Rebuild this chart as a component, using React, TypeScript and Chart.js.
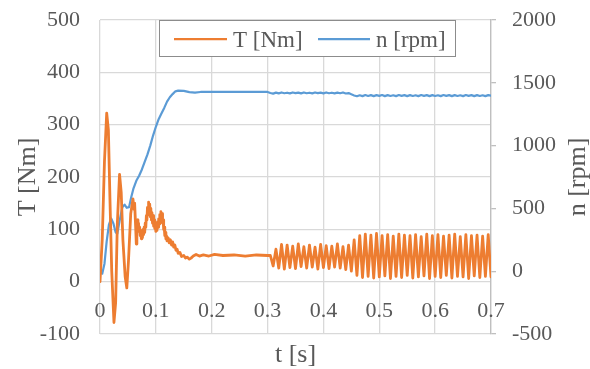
import { useEffect, useRef } from "react";
import { Chart, registerables } from "chart.js";

Chart.register(...registerables);

const FONT = '"Liberation Serif", "Times New Roman", serif';
const TEXT = "#595959";
const GRID = "#D9D9D9";
const AXIS = "#BFBFBF";
const ORANGE = "#ED7D31";
const BLUE = "#5B9BD5";

// Axis ticks and titles
const timeTicks = [0, 0.1, 0.2, 0.3, 0.4, 0.5, 0.6, 0.7];
const timeTickLabels = ["0", "0.1", "0.2", "0.3", "0.4", "0.5", "0.6", "0.7"];
const torqueTicks = [-100, 0, 100, 200, 300, 400, 500];
const speedTicks = [-500, 0, 500, 1000, 1500, 2000];
const timeTitle = "t [s]";
const torqueTitle = "T [Nm]";
const speedTitle = "n [rpm]";

// Torque during start-up, [t (s), T (Nm)]
const torqueStartup: [number, number][] = [
  [0.0, 0], [0.004, 80], [0.008, 230], [0.012, 322], [0.015, 290], [0.018, 150],
  [0.021, 20], [0.025, -78], [0.028, -40], [0.031, 110], [0.035, 205], [0.038, 170],
  [0.041, 80], [0.045, 10], [0.048, -12], [0.051, 40], [0.055, 130], [0.059, 158],
  [0.061, 138], [0.062, 150], [0.064, 100], [0.065, 72], [0.066, 96], [0.067, 118],
  [0.068, 102], [0.069, 112], [0.07, 96], [0.071, 104], [0.072, 88], [0.073, 98],
  [0.074, 82], [0.075, 94], [0.076, 84], [0.077, 100], [0.078, 90], [0.079, 104],
  [0.08, 94], [0.081, 112], [0.082, 104], [0.083, 126], [0.084, 118], [0.085, 142],
  [0.086, 128], [0.087, 152], [0.088, 132], [0.089, 148], [0.09, 124], [0.091, 140],
  [0.092, 118], [0.093, 132], [0.094, 112], [0.095, 126], [0.096, 106], [0.097, 118],
  [0.098, 102], [0.099, 110], [0.1, 96], [0.101, 108], [0.102, 98], [0.103, 114],
  [0.104, 104], [0.105, 120], [0.106, 110], [0.107, 128], [0.108, 116], [0.109, 134],
  [0.11, 120], [0.111, 130], [0.112, 112], [0.113, 118], [0.114, 100], [0.115, 104],
  [0.116, 88], [0.117, 94], [0.118, 82], [0.119, 88], [0.12, 78], [0.122, 84],
  [0.124, 74], [0.126, 80], [0.128, 70], [0.13, 76], [0.132, 66], [0.134, 70],
  [0.136, 60], [0.138, 62], [0.14, 54], [0.143, 56], [0.146, 48], [0.15, 50],
  [0.153, 45], [0.156, 47], [0.16, 43], [0.163, 45], [0.167, 49], [0.172, 52],
  [0.178, 49], [0.185, 51], [0.195, 49], [0.205, 52], [0.22, 50], [0.24, 51],
  [0.26, 49], [0.28, 51], [0.3, 50], [0.305, 50],
];

// Torque ripple, one sample every 5 ms from 0.31 s
const TORQUE_RIPPLE_START = 0.31;
const RIPPLE_STEP = 0.005;
const torqueRipple = [
  30, 62, 26, 71, 24, 70, 27, 68, 25, 72, 29, 67, 26, 70, 28, 66, 24, 71, 27, 69,
  25, 68, 28, 72, 26, 67, 23, 70, 20, 80, 12, 88, 8, 91, 10, 89, 7, 92, 9, 88,
  11, 90, 6, 87, 10, 91, 8, 89, 12, 88, 7, 90, 9, 86, 11, 91, 6, 88, 10, 90,
  8, 87, 12, 89, 7, 91, 10, 86, 9, 90, 6, 88, 11, 89, 8, 87, 10, 90, 9,
];

// Speed during start-up, [t (s), n (rpm)]
const speedStartup: [number, number][] = [
  [0.0, 20], [0.004, -20], [0.008, 60], [0.012, 240], [0.016, 370], [0.02, 420],
  [0.024, 380], [0.028, 310], [0.031, 300], [0.035, 400], [0.04, 510], [0.044, 530],
  [0.048, 505], [0.052, 510], [0.056, 590], [0.06, 660], [0.065, 720], [0.07, 760],
  [0.075, 810], [0.08, 870], [0.085, 930], [0.09, 1000], [0.095, 1080], [0.1, 1150],
  [0.105, 1210], [0.11, 1255], [0.115, 1300], [0.12, 1350], [0.125, 1385],
  [0.13, 1410], [0.135, 1432], [0.14, 1438], [0.15, 1436], [0.16, 1426],
  [0.17, 1422], [0.18, 1427], [0.2, 1428], [0.22, 1427], [0.25, 1428],
  [0.28, 1428], [0.3, 1427],
];

// Speed ripple, one sample every 5 ms from 0.305 s
const SPEED_RIPPLE_START = 0.305;
const speedRipple = [
  1419, 1414, 1422, 1416, 1423, 1417, 1421, 1416, 1423, 1418, 1422, 1416, 1423, 1417,
  1421, 1416, 1423, 1418, 1422, 1416, 1423, 1417, 1421, 1416, 1422, 1417, 1423, 1415,
  1418, 1408,
  1399, 1393, 1401, 1394, 1403, 1395, 1402, 1394, 1402, 1396, 1403, 1394, 1402, 1395,
  1401, 1394, 1403, 1396, 1402, 1394, 1402, 1395, 1401, 1394, 1403, 1396, 1402, 1394,
  1402, 1395, 1401, 1394, 1403, 1396, 1402, 1394, 1402, 1395, 1401, 1394, 1403, 1396,
  1402, 1394, 1402, 1395, 1401, 1394, 1402, 1397,
];

const fromPairs = (pairs: [number, number][]) => pairs.map(([x, y]) => ({ x, y }));
const fromSamples = (start: number, step: number, values: number[]) =>
  values.map((y, i) => ({ x: +(start + i * step).toFixed(3), y }));

// Tick labels, axis titles and the boxed legend inside the plot
const textPlugin = {
  id: "axisText",
  beforeDatasetsDraw(chart: any) {
    const { ctx, scales } = chart;
    const x = scales.x;
    const yT = scales.y;
    const yN = scales.y1;
    ctx.save();
    ctx.fillStyle = TEXT;
    ctx.font = `22px ${FONT}`;
    ctx.textBaseline = "middle";

    ctx.textAlign = "right";
    torqueTicks.forEach((v) => ctx.fillText(String(v), 80, yT.getPixelForValue(v)));

    ctx.textAlign = "left";
    speedTicks.forEach((v) => ctx.fillText(String(v), 512, yN.getPixelForValue(v)));

    ctx.textAlign = "center";
    const zeroY = yT.getPixelForValue(0);
    timeTicks.forEach((v, i) =>
      ctx.fillText(timeTickLabels[i], x.getPixelForValue(v), zeroY + 30)
    );

    ctx.font = `26px ${FONT}`;
    ctx.fillText(timeTitle, (x.left + x.right) / 2, 355);

    const mid = (yT.top + yT.bottom) / 2;
    ctx.save();
    ctx.translate(28, mid);
    ctx.rotate(-Math.PI / 2);
    ctx.fillText(torqueTitle, 0, 0);
    ctx.restore();

    ctx.save();
    ctx.translate(578, mid);
    ctx.rotate(-Math.PI / 2);
    ctx.fillText(speedTitle, 0, 0);
    ctx.restore();
    ctx.restore();
  },
  afterDraw(chart: any) {
    const { ctx } = chart;
    const ds = chart.data.datasets;
    ctx.save();
    ctx.fillStyle = "#FFFFFF";
    ctx.fillRect(159, 20, 296, 36);
    ctx.strokeStyle = "#8C8C8C";
    ctx.lineWidth = 1;
    ctx.strokeRect(159.5, 20.5, 296, 36);

    const entries = [
      { x0: 174, x1: 227, tx: 233 },
      { x0: 318, x1: 370, tx: 376 },
    ];
    ctx.font = `23px ${FONT}`;
    ctx.textAlign = "left";
    ctx.textBaseline = "alphabetic";
    entries.forEach((e, i) => {
      ctx.strokeStyle = ds[i].borderColor;
      ctx.lineWidth = 2.25;
      ctx.beginPath();
      ctx.moveTo(e.x0, 39);
      ctx.lineTo(e.x1, 39);
      ctx.stroke();
      ctx.fillStyle = TEXT;
      ctx.fillText(ds[i].label, e.tx, 46.5);
    });
    ctx.restore();
  },
};

export default function App() {
  const canvasRef = useRef<HTMLCanvasElement | null>(null);

  useEffect(() => {
    if (!canvasRef.current) return;
    const chart = new Chart(canvasRef.current, {
      type: "line",
      data: {
        datasets: [
          {
            label: torqueTitle,
            data: [
              ...fromPairs(torqueStartup),
              ...fromSamples(TORQUE_RIPPLE_START, RIPPLE_STEP, torqueRipple),
            ],
            borderColor: ORANGE,
            borderWidth: 2.8,
            borderJoinStyle: "round",
            borderCapStyle: "round",
            yAxisID: "y",
          },
          {
            label: speedTitle,
            data: [
              ...fromPairs(speedStartup),
              ...fromSamples(SPEED_RIPPLE_START, RIPPLE_STEP, speedRipple),
            ],
            borderColor: BLUE,
            borderWidth: 2.2,
            borderJoinStyle: "round",
            borderCapStyle: "round",
            yAxisID: "y1",
          },
        ],
      },
      options: {
        responsive: false,
        maintainAspectRatio: false,
        animation: false,
        layout: { padding: { left: 100, right: 94, top: 20, bottom: 35 } },
        elements: { point: { radius: 0 }, line: { tension: 0 } },
        plugins: {
          legend: { display: false },
          tooltip: { enabled: false },
          title: { display: false },
        },
        scales: {
          x: {
            type: "linear",
            min: 0,
            max: 0.7,
            ticks: { display: false, stepSize: 0.1 },
            grid: { color: GRID, lineWidth: 1.3, drawTicks: false },
            border: { display: false },
          },
          y: {
            position: "left",
            min: -100,
            max: 500,
            ticks: { display: false, stepSize: 100 },
            grid: { color: GRID, lineWidth: 1.3, drawTicks: false },
            border: { display: false },
          },
          y1: {
            position: "right",
            min: -500,
            max: 2000,
            ticks: { display: false, stepSize: 500 },
            grid: { drawOnChartArea: false, drawTicks: true, tickLength: 5, color: AXIS, lineWidth: 1.3 },
            border: { display: true, color: AXIS, width: 1.3 },
          },
        },
      },
      plugins: [textPlugin],
    });
    return () => chart.destroy();
  }, []);

  return (
    <div style={{ position: "absolute", left: 0, top: 0, width: 590, height: 369, background: "#fff" }}>
      <canvas ref={canvasRef} width={590} height={369} />
    </div>
  );
}
